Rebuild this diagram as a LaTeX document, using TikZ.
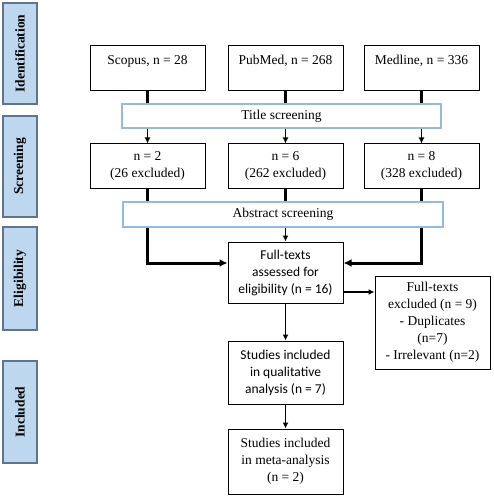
\documentclass[tikz,border=0pt]{standalone}
\usepackage{fontspec}
\setmainfont{Liberation Serif}
\newfontfamily\calibrifont{Carlito}
\definecolor{stagefill}{RGB}{189,215,238}
\definecolor{stagedraw}{RGB}{96,116,140}
\definecolor{screendraw}{RGB}{150,186,222}
\usepackage{tikz}
\usetikzlibrary{arrows.meta}
\tikzstyle{base}=[x=1pt, y=-1pt, font=\fontsize{13.5}{17}\selectfont, >={Latex[length=6pt,width=6pt]}]
\tikzstyle{stagebox}=[draw=stagedraw, fill=stagefill, line width=1.2pt, rotate=90, minimum width=101pt, minimum height=34pt, inner sep=0pt, font=\fontsize{13.5}{17}\selectfont\bfseries]
\tikzstyle{box}=[draw, line width=1pt, minimum width=115pt, inner sep=0pt, align=center]
\tikzstyle{screenbox}=[draw=screendraw, fill=white, line width=1.2pt, inner sep=0pt]
\tikzstyle{sansbox}=[box, font=\fontsize{13.5}{17}\calibrifont]
\tikzstyle{heavy}=[line width=3pt]
\tikzstyle{flow}=[line width=1.6pt, ->]

\begin{document}
\begin{tikzpicture}[base]
    \path [use as bounding box] (0,0) rectangle (494,497);
        \node [stagebox] (ident) at (20,53.5) {Identification};
        \node [stagebox] (screen) at (20,166.5) {Screening};
        \node [stagebox, minimum width=103pt] (elig) at (20,278.5) {Eligibility};
        \node [stagebox, minimum width=102pt] (incl) at (20,412) {Included};
        \node [box, minimum height=45pt] (scopus) at (147.5,68.5) {Scopus, n = 28\\\mbox{}};
        \node [box, minimum height=45pt] (pubmed) at (285.5,68.5) {PubMed, n = 268\\\mbox{}};
        \node [box, minimum height=45pt] (medline) at (421.5,68.5) {Medline, n = 336\\\mbox{}};
        \node [screenbox, minimum width=319pt, minimum height=24pt] (title) at (281.5,116) {Title screening};
        \node [box, minimum height=44pt] (scopustwo) at (147.5,166) {n = 2\\(26 excluded)};
        \node [box, minimum height=44pt] (pubmedtwo) at (285.5,166) {n = 6\\(262 excluded)};
        \node [box, minimum height=44pt] (medlinetwo) at (421.5,166) {n = 8\\(328 excluded)};
        \node [screenbox, minimum width=320pt, minimum height=25pt] (abstract) at (283,214.5) {Abstract screening};
        \node [sansbox, minimum height=61pt] (full) at (285.5,272.5) {Full-texts\\assessed for\\eligibility (n = 16)};
        \node [box, minimum height=93pt] (excluded) at (432.5,322.5) {Full-texts\\excluded (n = 9)\\- Duplicates\\(n=7)\\- Irrelevant (n=2)};
        \node [sansbox, minimum height=63pt] (qual) at (285.5,372.5) {Studies included\\in qualitative\\analysis (n = 7)};
        \node [box, minimum height=65pt] (meta) at (285.5,461.5) {Studies included\\in meta-analysis\\(n = 2)};
        \draw [heavy] (scopus.south) -- (scopus.south |- title.north);
        \draw [heavy] (pubmed.south) -- (pubmed.south |- title.north);
        \draw [heavy] (medline.south) -- (medline.south |- title.north);
        \draw [flow] (scopus.south |- title.south) -- (scopustwo.north);
        \draw [flow] (pubmed.south |- title.south) -- (pubmedtwo.north);
        \draw [flow] (medline.south |- title.south) -- (medlinetwo.north);
        \draw [heavy] (scopustwo.south) -- (scopustwo.south |- abstract.north);
        \draw [line width=2.4pt] (pubmedtwo.south) -- (pubmedtwo.south |- abstract.north);
        \draw [heavy] (medlinetwo.south) -- (medlinetwo.south |- abstract.north);
        \draw [heavy, ->, >={Latex[length=8pt,width=8pt]}] (scopustwo.south |- abstract.south) |- ([yshift=9.5pt]full.west);
        \draw [heavy, ->, >={Latex[length=8pt,width=8pt]}] (medlinetwo.south |- abstract.south) |- ([yshift=9.5pt]full.east);
        \draw [flow] (pubmedtwo.south |- abstract.south) -- (full.north);
        \draw [flow, line width=1.3pt] ([yshift=-19.5pt]full.east) -- ([yshift=-19.5pt]full.east -| excluded.west);
        \draw [flow, line width=1.3pt] (full.south) -- (qual.north);
        \draw [flow, line width=1.3pt] (qual.south) -- (meta.north);
    \end{tikzpicture}
\end{document}
